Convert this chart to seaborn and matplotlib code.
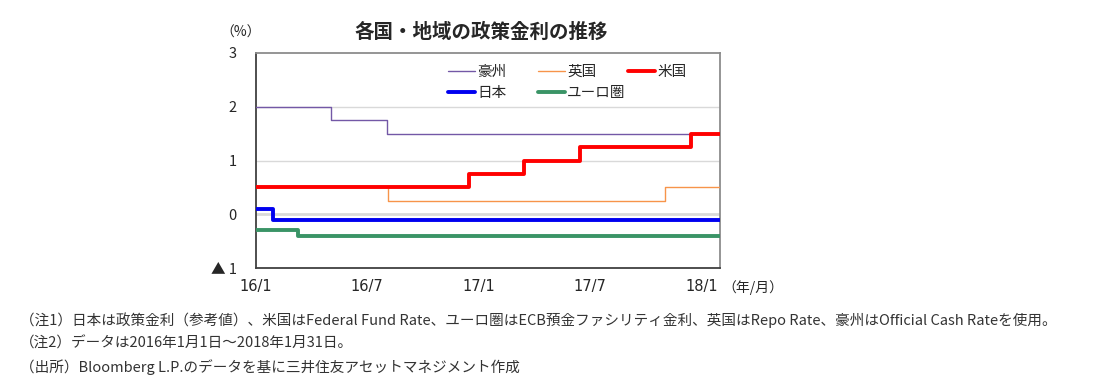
import pandas as pd
import matplotlib
matplotlib.use("Agg")
import matplotlib.pyplot as plt
import seaborn as sns

# Policy rate step changes (date the new rate starts, rate in %)
end_date = "2018-01-31"

aus_dates = ["2016-01-01", "2016-05-03", "2016-08-03"]
aus_rates = [2.0, 1.75, 1.5]

uk_dates = ["2016-01-01", "2016-08-04", "2017-11-02"]
uk_rates = [0.5, 0.25, 0.5]

us_dates = ["2016-01-01", "2016-12-15", "2017-03-16", "2017-06-15", "2017-12-14"]
us_rates = [0.5, 0.75, 1.0, 1.25, 1.5]

jp_dates = ["2016-01-01", "2016-01-29"]
jp_rates = [0.1, -0.1]

eu_dates = ["2016-01-01", "2016-03-10"]
eu_rates = [-0.3, -0.4]

series_names = ["豪州", "英国", "米国", "日本", "ユーロ圏"]
series_dates = [aus_dates, uk_dates, us_dates, jp_dates, eu_dates]
series_rates = [aus_rates, uk_rates, us_rates, jp_rates, eu_rates]
series_colors = ["#7358A6", "#F7944A", "#FF0000", "#0000F0", "#3A9466"]
series_widths = [1.0, 1.0, 2.8, 2.8, 2.8]

tick_dates = ["2016-01-01", "2016-07-01", "2017-01-01", "2017-07-01", "2018-01-01"]
tick_labels = ["16/1", "16/7", "17/1", "17/7", "18/1"]
y_ticks = [-1, 0, 1, 2, 3]
y_labels = ["▲ 1", "0", "1", "2", "3"]

notes = [
    "（注1）日本は政策金利（参考値）、米国はFederal Fund Rate、ユーロ圏はECB預金ファシリティ金利、英国はRepo Rate、豪州はOfficial Cash Rateを使用。",
    "（注2）データは2016年1月1日～2018年1月31日。",
    "（出所）Bloomberg L.P.のデータを基に三井住友アセットマネジメント作成",
]

sns.set_style("white")
plt.rcParams["font.family"] = ["Noto Sans CJK JP", "DejaVu Sans"]

fig = plt.figure(figsize=(11.06, 3.82), dpi=100)
ax = fig.add_axes([256 / 1106, 1 - 268 / 382, 464 / 1106, 215 / 382])

for name, dates, rates, color, lw in zip(series_names, series_dates, series_rates,
                                         series_colors, series_widths):
    df = pd.DataFrame({"date": pd.to_datetime(dates + [end_date]),
                       "rate": rates + [rates[-1]]})
    sns.lineplot(data=df, x="date", y="rate", ax=ax, color=color, linewidth=lw,
                 drawstyle="steps-post", label=name, zorder=3)

# gridlines
for yv in [1, 2]:
    ax.axhline(yv, color="#d9d9d9", linewidth=1.0, zorder=1)
ax.axhline(0, color="#d9d9d9", linewidth=2.0, zorder=1)

ax.set_xlim(pd.Timestamp("2016-01-01"), pd.Timestamp(end_date))
ax.set_ylim(-1, 3)
ax.set_xticks(pd.to_datetime(tick_dates))
ax.set_xticklabels(tick_labels, fontsize=10.5, family=["DejaVu Sans"])
ax.set_yticks(y_ticks)
ax.set_yticklabels(y_labels, fontsize=10.5)
ax.tick_params(axis="x", direction="in", length=4, width=1, color="#404040", pad=8)
ax.tick_params(axis="y", direction="in", length=4, width=1, color="#808080", pad=14)
ax.set_xlabel("")
ax.set_ylabel("")

for side in ["left", "bottom"]:
    ax.spines[side].set_color("#404040")
    ax.spines[side].set_linewidth(1.3)
for side in ["top", "right"]:
    ax.spines[side].set_color("#8c8c8c")
    ax.spines[side].set_linewidth(1.3)

# legend: three evenly spaced columns, filled row by row
h, l = ax.get_legend_handles_labels()
lookup = dict(zip(l, h))
columns = [["豪州", "日本"], ["英国", "ユーロ圏"], ["米国"]]
col_x = [0.414, 0.608, 0.802]
legends = []
for names, x0 in zip(columns, col_x):
    leg = ax.legend([lookup[k] for k in names], names, frameon=False,
                    loc="upper left", bbox_to_anchor=(x0, 0.945), fontsize=10.5,
                    handlelength=1.85, handletextpad=0.15, labelspacing=0.5,
                    borderaxespad=0, borderpad=0)
    legends.append(leg)
for leg in legends[:-1]:
    ax.add_artist(leg)

fig.text(481 / 1106, 1 - 32 / 382, "各国・地域の政策金利の推移", ha="center",
         va="center", fontsize=14, fontweight="bold")
fig.text(241 / 1106, 1 - 33 / 382, "（%）", ha="center", va="center", fontsize=10)
fig.text(722 / 1106, 1 - 288 / 382, "（年/月）", ha="left", va="center", fontsize=10)

for i, line in enumerate(notes):
    fig.text(20 / 1106, 1 - (320 + i * 23.5) / 382, line, ha="left", va="center",
             fontsize=10.5, color="#333333")

fig.savefig("out.png", dpi=100)
